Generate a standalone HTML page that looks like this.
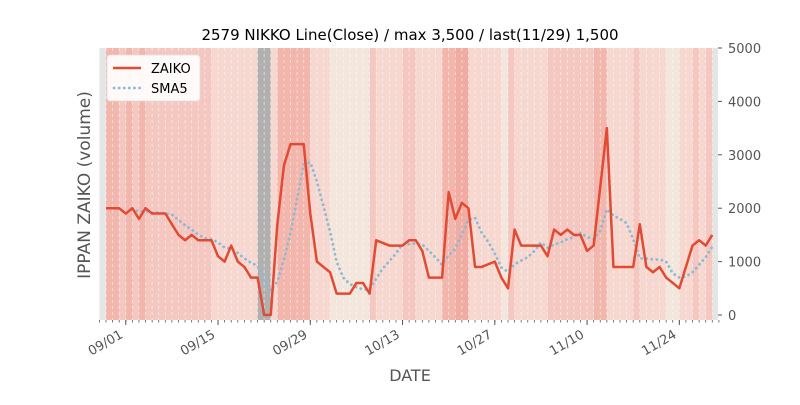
<!DOCTYPE html>
<html><head><meta charset="utf-8"><style>
body{margin:0;background:#fff;width:800px;height:400px;overflow:hidden;font-family:"Liberation Sans","DejaVu Sans",sans-serif}
svg text{font-family:"DejaVu Sans","Liberation Sans",sans-serif}
</style></head><body>
<svg id="chart" width="800" height="400" xmlns="http://www.w3.org/2000/svg">
<g id="bands"></g>
<g id="grid"></g>
<g id="series"></g>
<g id="axes"></g>
<text x="410" y="40" text-anchor="middle" font-size="15" fill="#000">2579 NIKKO Line(Close) / max 3,500 / last(11/29) 1,500</text>
<text x="410" y="381" text-anchor="middle" font-size="16" fill="#555">DATE</text>
<text transform="translate(90,185) rotate(-90)" text-anchor="middle" font-size="17" fill="#555">IPPAN ZAIKO (volume)</text>
<g>
<rect x="107" y="55" width="93" height="46" rx="3" fill="#fff" fill-opacity="0.9" stroke="#ddd" stroke-width="0.8"/>
<g><line x1="113" y1="68" x2="141" y2="68" stroke="#e24a33" stroke-width="2.5"/><text x="151" y="73" font-size="13" fill="#000">ZAIKO</text></g>
<g><line x1="114" y1="88" x2="141" y2="88" stroke="#8eb9d3" stroke-width="2.8" stroke-dasharray="0.1,5" stroke-linecap="round"/><text x="151" y="93" font-size="13" fill="#000">SMA5</text></g>
</g>
</svg>
<script>
const zaiko=[2000,2000,2000,1900,2000,1800,2000,1900,1900,1900,1700,1500,1400,1500,1400,1400,1400,1100,1000,1300,1000,900,700,700,0,0,1700,2800,3200,3200,3200,1900,1000,900,800,400,400,400,600,600,400,1400,1350,1300,1300,1300,1400,1400,1200,700,700,700,2300,1800,2100,2000,900,900,950,1000,700,500,1600,1300,1300,1300,1300,1100,1600,1500,1600,1500,1500,1200,1300,2400,3500,900,900,900,900,1700,900,800,900,700,600,500,900,1300,1400,1300,1500];
// band shade level per day: -1 grey edge, -2 dark grey, 0 cream, 1 light, 2 medium, 3 dark, 4 darker
const bandLevel=[-1,3,3,2,3,2,3,2,2,2,2,2,2,2,2,2,2,1,1,1,1,1,1,1,-2,-2,1,3,3,3,3,3,1,1,1,0,0,0,0,0,0,2,1,1,1,1,2,2,1,1,1,1,3,3,4,4,1,1,1,1,1,0,2,1,1,1,1,1,2,2,2,2,2,2,2,3,3,1,1,1,1,2,1,1,1,1,0,0,1,1,2,1,2];
const yTicks=[0,1000,2000,3000,4000,5000];
const xTickLabels=["09/01","09/15","09/29","10/13","10/27","11/10","11/24"];
const xTickDays=[3,17,31,45,59,73,87];
const sma5=zaiko.map((v,i)=>i<4?null:(zaiko.slice(i-4,i+1).reduce((a,b)=>a+b,0)/5));

const NS="http://www.w3.org/2000/svg";
const L=100,R=718,T=48,B=320;
const x=i=>106+6.59*i;
const y=v=>315-v*0.0534;
function mk(tag,attrs,parent){const e=document.createElementNS(NS,tag);for(const k in attrs)e.setAttribute(k,attrs[k]);parent.appendChild(e);return e;}
const colors={"-1":"#e5e5e5","-2":"#b0b0b0","0":"#f3e6dd","1":"#f6d8d0","2":"#f4c8c0","3":"#f2b6ac","4":"#f0aca2"};
const bands=document.getElementById('bands');
mk('rect',{x:L,y:T,width:R-L,height:B-T,fill:'#e5e5e5'},bands);
bandLevel.forEach((lv,i)=>{
  const r=mk('rect',{x:x(i-1),y:T,width:6.7,height:B-T,fill:colors[lv]},bands);
  
  
});
const grid=document.getElementById('grid');
zaiko.forEach((v,i)=>{mk('line',{x1:x(i),x2:x(i),y1:T,y2:B,stroke:'#fff','stroke-opacity':0.6,'stroke-width':0.8,'stroke-dasharray':'3,3'},grid);});
const series=document.getElementById('series');
const sp=mk('polyline',{points:sma5.map((v,i)=>v==null?null:x(i)+','+y(v)).filter(p=>p).join(' '),fill:'none',stroke:'#8eb9d3','stroke-width':2.8,'stroke-dasharray':'0.1,5','stroke-linecap':'round'},series);


const zp=mk('polyline',{points:zaiko.map((v,i)=>x(i)+','+y(v)).join(' '),fill:'none',stroke:'#e24a33','stroke-width':2.5,'stroke-linejoin':'round'},series);


const axes=document.getElementById('axes');
yTicks.forEach(t=>{
  mk('line',{x1:R,x2:R+4,y1:y(t),y2:y(t),stroke:'#555','stroke-width':1},axes);
  const tx=mk('text',{x:R+10,y:y(t)+5,'font-size':13,fill:'#555'},axes);
  tx.textContent=t;
  
  
});
for(let i=-1;i<=zaiko.length;i++){mk('line',{x1:x(i),x2:x(i),y1:B,y2:B+2.5,stroke:'#555','stroke-width':0.8},axes);}
xTickDays.forEach((d,k)=>{
  mk('line',{x1:x(d),x2:x(d),y1:B,y2:B+5,stroke:'#555','stroke-width':1},axes);
  const tx=mk('text',{transform:'translate('+(x(d)-2)+','+(B+17)+') rotate(-30)','text-anchor':'end','font-size':13,fill:'#555'},axes);
  tx.textContent=xTickLabels[k];
  
  
});
</script>
</body></html>
